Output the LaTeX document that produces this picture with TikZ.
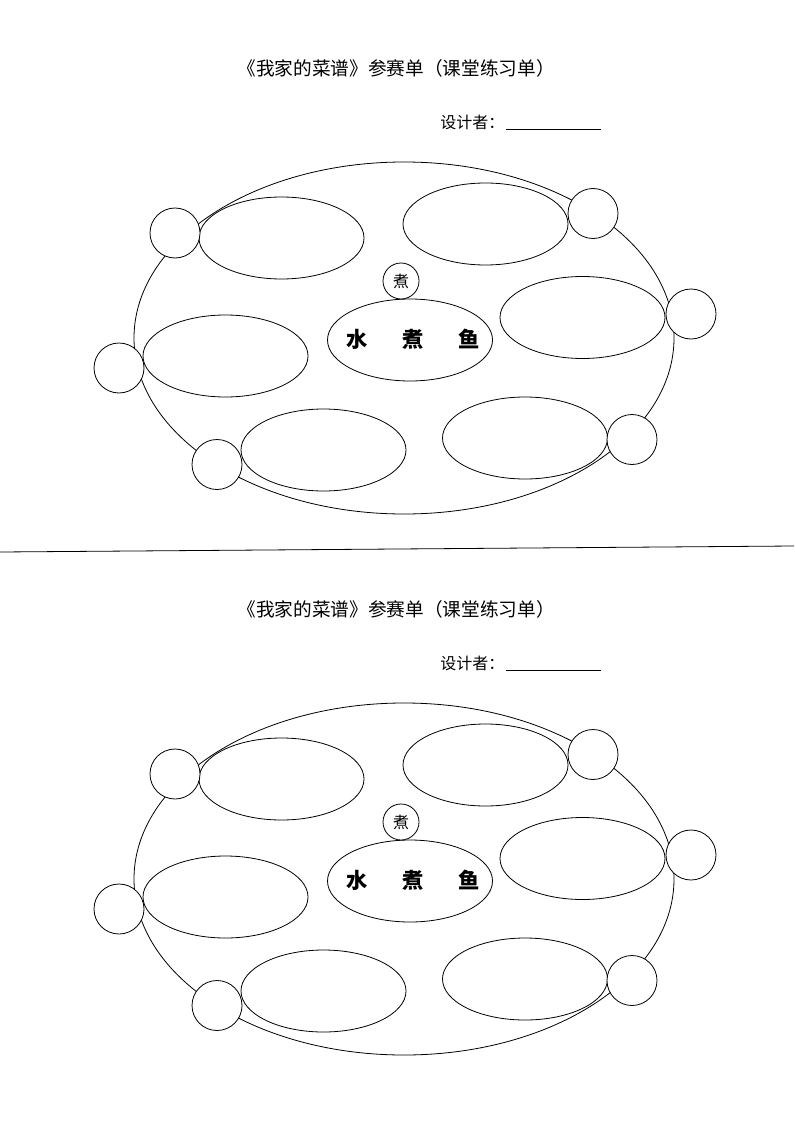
\documentclass[tikz,border=0pt]{standalone}
\usepackage{fontspec}
\newfontfamily\cjk{Noto Sans CJK SC}
\usetikzlibrary{shapes.geometric}
\begin{document}
\begin{tikzpicture}[x=0.75pt,y=-0.75pt,line width=0.6pt,
  bigring/.style={ellipse,draw,minimum width=405pt,minimum height=264pt,inner sep=0pt},
  petal/.style={ellipse,draw,fill=white,minimum width=123.75pt,minimum height=61.5pt,inner sep=0pt},
  knob/.style={circle,draw,fill=white,minimum size=37.5pt,inner sep=0pt},
  cookbadge/.style={circle,draw,fill=white,minimum size=27pt,inner sep=0pt,font=\cjk\fontsize{12}{12}\selectfont},
  titletext/.style={font=\cjk\fontsize{14}{14}\selectfont,inner sep=0pt},
  designertext/.style={font=\cjk\fontsize{12}{12}\selectfont,inner sep=0pt},
  dishtext/.style={font=\cjk\bfseries\fontsize{16}{16}\selectfont,inner sep=0pt}]
\useasboundingbox (0,0) rectangle (794,1123);
\foreach \oy in {0,541}{
\begin{scope}[shift={(0,\oy)}]
  \node[titletext] (title\oy) at (396,68) {《我家的菜谱》参赛单（课堂练习单）};
  \node[designertext,anchor=west] (des\oy) at (440,122) {设计者：};
  \coordinate (ua\oy) at (506,129);
  \coordinate (ub\oy) at (601,129);
  \draw (ua\oy) -- (ub\oy);
  \node[bigring] (ring\oy) at (404,338) {};
  \node[petal] (pa\oy) at (281.5,238) {};
  \node[petal] (pb\oy) at (225.5,356) {};
  \node[petal] (pc\oy) at (323.5,450) {};
  \node[petal] (pd\oy) at (485.5,224) {};
  \node[petal] (pe\oy) at (582.5,317.5) {};
  \node[petal] (pf\oy) at (525,438) {};
  \node[petal] (dish\oy) at (410,340) {};
  \node[dishtext] (dishname\oy) at (413,339) {水\hspace{26pt}煮\hspace{26pt}鱼};
  \node[cookbadge] (cook\oy) at (401,281) {煮};
  \node[knob] (ka\oy) at (175,233) {};
  \node[knob] (kb\oy) at (119,368) {};
  \node[knob] (kc\oy) at (217,464.5) {};
  \node[knob] (kd\oy) at (593,213.5) {};
  \node[knob] (ke\oy) at (691,314) {};
  \node[knob] (kf\oy) at (632,439.5) {};
\end{scope}}
\coordinate (divl) at (0,552);
\coordinate (divr) at (794,546);
\draw (divl) -- (divr);
\end{tikzpicture}
\end{document}
